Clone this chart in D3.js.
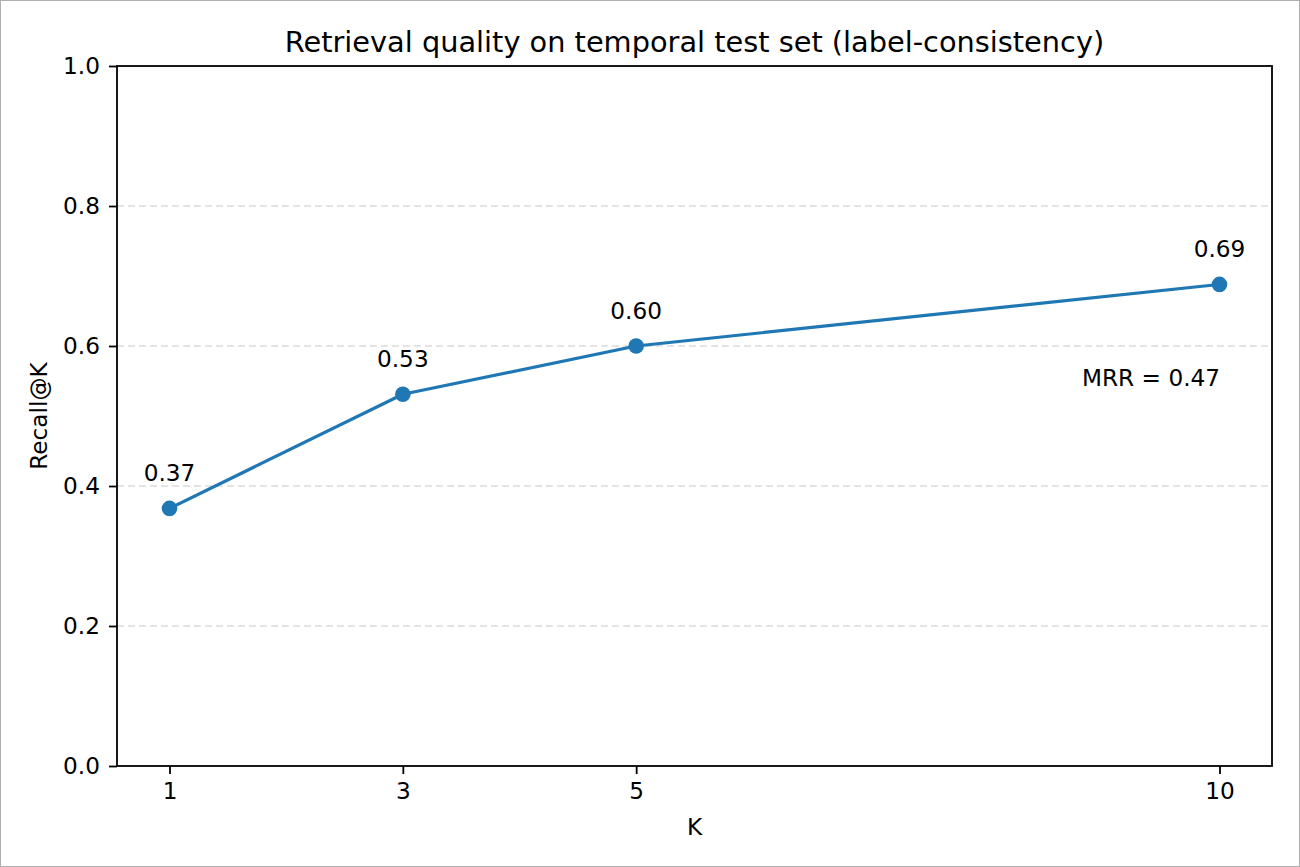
<!DOCTYPE html>
<html>
<head>
<meta charset="utf-8">
<script src="https://cdn.jsdelivr.net/npm/d3@7/dist/d3.min.js"></script>
<style>
  html, body { margin: 0; padding: 0; background: #fff; }
  svg { display: block; }
  text { font-family: "DejaVu Sans", sans-serif; fill: #000; }
</style>
</head>
<body>
<svg id="chart" width="1300" height="867"></svg>
<script>
const kValues = [1, 3, 5, 10];
const recallValues = [0.368, 0.531, 0.600, 0.688];
const recallLabels = ["0.37", "0.53", "0.60", "0.69"];
const yTicks = [0.0, 0.2, 0.4, 0.6, 0.8, 1.0];
const gridTicks = [0.2, 0.4, 0.6, 0.8];
const mrrText = "MRR = 0.47";
const titleText = "Retrieval quality on temporal test set (label-consistency)";

const W = 1300, H = 867;
const m = { left: 117, right: 1272, top: 66, bottom: 766 };
const FS = "23.2px";
const svg = d3.select("#chart");

// outer frame
svg.append("rect").attr("x", 0.5).attr("y", 0.5).attr("width", W - 1).attr("height", H - 1)
  .attr("fill", "#fff").attr("stroke", "#b0b0b0").attr("stroke-width", 1);

const xMin = d3.min(kValues), xMax = d3.max(kValues), pad = (xMax - xMin) * 0.05;
const x = d3.scaleLinear().domain([xMin - pad, xMax + pad]).range([m.left, m.right]);
const y = d3.scaleLinear().domain([0, 1]).range([m.bottom, m.top]);

// grid
svg.append("g").selectAll("line").data(gridTicks).join("line")
  .attr("x1", m.left).attr("x2", m.right)
  .attr("y1", d => y(d)).attr("y2", d => y(d))
  .attr("stroke", "#dcdcdc").attr("stroke-width", 1.5).attr("stroke-dasharray", "7,4");

// line
const line = d3.line().x((d, i) => x(kValues[i])).y(d => y(d));
svg.append("path").datum(recallValues).attr("d", line)
  .attr("fill", "none").attr("stroke", "#1f77b4").attr("stroke-width", 3.2)
  .attr("stroke-linejoin", "round").attr("stroke-linecap", "square");

svg.append("g").selectAll("circle").data(recallValues).join("circle")
  .attr("cx", (d, i) => x(kValues[i])).attr("cy", d => y(d)).attr("r", 7.8)
  .attr("fill", "#1f77b4");

// value labels
svg.append("g").selectAll("text").data(recallValues).join("text")
  .attr("x", (d, i) => x(kValues[i])).attr("y", d => y(d) - 27)
  .attr("text-anchor", "middle").attr("font-size", FS)
  .text((d, i) => recallLabels[i]);

// axes
const xAxis = d3.axisBottom(x).tickValues(kValues).tickFormat(d3.format("d")).tickSize(8).tickPadding(9);
const yAxis = d3.axisLeft(y).tickValues(yTicks).tickFormat(d3.format(".1f")).tickSize(8).tickPadding(9);

const gx = svg.append("g").attr("transform", `translate(0,${m.bottom})`).call(xAxis);
const gy = svg.append("g").attr("transform", `translate(${m.left},0)`).call(yAxis);
[gx, gy].forEach(g => {
  g.select(".domain").remove();
  g.selectAll(".tick line").attr("stroke", "#000").attr("stroke-width", 1.8);
  g.selectAll(".tick text").attr("font-size", FS).attr("fill", "#000")
    .attr("font-family", "DejaVu Sans, sans-serif");
});

// frame (spines)
svg.append("rect").attr("x", m.left).attr("y", m.top)
  .attr("width", m.right - m.left).attr("height", m.bottom - m.top)
  .attr("fill", "none").attr("stroke", "#000").attr("stroke-width", 1.8);

// MRR annotation
svg.append("text").attr("x", m.left + 0.955 * (m.right - m.left))
  .attr("y", m.bottom - 0.543 * (m.bottom - m.top))
  .attr("text-anchor", "end").attr("font-size", FS).text(mrrText);

// title & labels
svg.append("text").attr("x", (m.left + m.right) / 2).attr("y", 52)
  .attr("text-anchor", "middle").attr("font-size", "28.8px").text(titleText);
svg.append("text").attr("x", (m.left + m.right) / 2).attr("y", 835)
  .attr("text-anchor", "middle").attr("font-size", FS).text("K");
svg.append("text").attr("transform", `translate(47,${(m.top + m.bottom) / 2}) rotate(-90)`)
  .attr("text-anchor", "middle").attr("font-size", FS).text("Recall@K");
</script>
</body>
</html>
